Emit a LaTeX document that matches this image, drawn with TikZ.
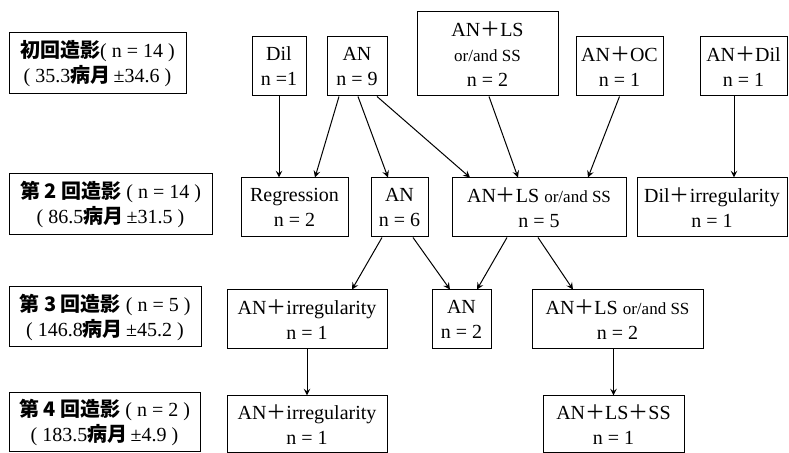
\documentclass[tikz,border=0pt]{standalone}
\usepackage{fontspec}
\setmainfont{Liberation Serif}
\newfontfamily\cjk{Noto Sans CJK JP}
\newcommand\pl{{\cjk ＋}}
\newcommand\orand{{\fontsize{8.5}{10}\selectfont or/and SS}}
\newcommand\jb[1]{{\cjk\bfseries #1}}
\begin{document}
\begin{tikzpicture}[x=0.5pt,y=-0.5pt,>=stealth,font=\fontsize{10}{12.5}\selectfont]
\tikzstyle{box}=[draw,line width=0.5pt,align=center,inner sep=1pt,minimum height=29.5pt]
\tikzstyle{link}=[->,line width=0.5pt]

\useasboundingbox (0,0) rectangle (789,453);

% stages
\node[box,minimum width=88.5pt,minimum height=30.5pt] (lab1) at (97.5,63.5) {\jb{初回造影}( n = 14 )\\( 35.3\jb{病月}\,±34.6 )};
\node[box,minimum width=101.5pt,minimum height=30.5pt] (lab2) at (110.5,204.5) {\jb{第 2 回造影} ( n = 14 )\\( 86.5\jb{病月}\,±31.5 )};
\node[box,minimum width=96pt,minimum height=30pt] (lab3) at (105,317) {\jb{第 3 回造影} ( n = 5 )\\( 146.8\jb{病月}\,±45.2 )};
\node[box,minimum width=95.5pt] (lab4) at (104.5,422.5) {\jb{第 4 回造影} ( n = 2 )\\( 183.5\jb{病月}\,±4.9 )};

% first
\node[box,minimum width=27pt] (dil1) at (279,66.5) {Dil\\n =1};
\node[box,minimum width=30pt] (an1) at (357,66.5) {AN\\n = 9};
\node[box,minimum width=70.5pt,minimum height=42pt] (anls1) at (487.5,54) {AN\pl LS\\\orand\\n = 2};
\node[box,minimum width=43.5pt] (anoc1) at (619.5,66.5) {AN\pl OC\\n = 1};
\node[box,minimum width=43.5pt] (andil1) at (743.5,66.5) {AN\pl Dil\\n = 1};

% second
\node[box,minimum width=53.5pt] (reg2) at (294.5,207.5) {Regression\\n = 2};
\node[box,minimum width=28.5pt] (an2) at (399.5,207.5) {AN\\n = 6};
\node[box,minimum width=87pt] (anls2) at (539,207.5) {AN\pl LS \orand\\n = 5};
\node[box,minimum width=75pt] (dilirr2) at (712,207.5) {Dil\pl irregularity\\n = 1};

% third
\node[box,minimum width=80pt] (anirr3) at (307,319.5) {AN\pl irregularity\\n = 1};
\node[box,minimum width=29.5pt] (an3) at (461.5,319.5) {AN\\n = 2};
\node[box,minimum width=85.5pt] (anls3) at (617.5,319.5) {AN\pl LS \orand\\n = 2};

% fourth
\node[box,minimum width=80pt,minimum height=28.5pt] (anirr4) at (307,424.5) {AN\pl irregularity\\n = 1};
\node[box,minimum width=70.5pt,minimum height=28.5pt] (anlsss4) at (613.5,424.5) {AN\pl LS\pl SS\\n = 1};

\draw[link] (dil1.south) -- (dil1.south |- reg2.north);
\draw[link] ([xshift=-9pt]an1.south) -- ([xshift=10.25pt]reg2.north);
\draw[link] ([xshift=0.5pt]an1.south) -- ([xshift=-5.75pt]an2.north);
\draw[link] ([xshift=10pt]an1.south) -- ([xshift=-34.5pt]anls2.north);
\draw[link] ([xshift=0.75pt]anls1.south) -- ([xshift=-10.5pt]anls2.north);
\draw[link] (anoc1.south) -- ([xshift=24.5pt]anls2.north);
\draw[link] ([xshift=-4.75pt]andil1.south) -- ([xshift=-4.75pt]andil1.south |- dilirr2.north);

\draw[link] ([xshift=-8.75pt]an2.south) -- ([xshift=22.5pt]anirr3.north);
\draw[link] ([xshift=6.75pt]an2.south) -- ([xshift=-5.75pt]an3.north);
\draw[link] ([xshift=-16pt]anls2.south) -- ([xshift=7.75pt]an3.north);
\draw[link] ([xshift=-0.5pt]anls2.south) -- ([xshift=-22.25pt]anls3.north);

\draw[link] (anirr3) -- (anirr4);
\draw[link] (anlsss4.north |- anls3.south) -- (anlsss4.north);

\end{tikzpicture}
\end{document}
